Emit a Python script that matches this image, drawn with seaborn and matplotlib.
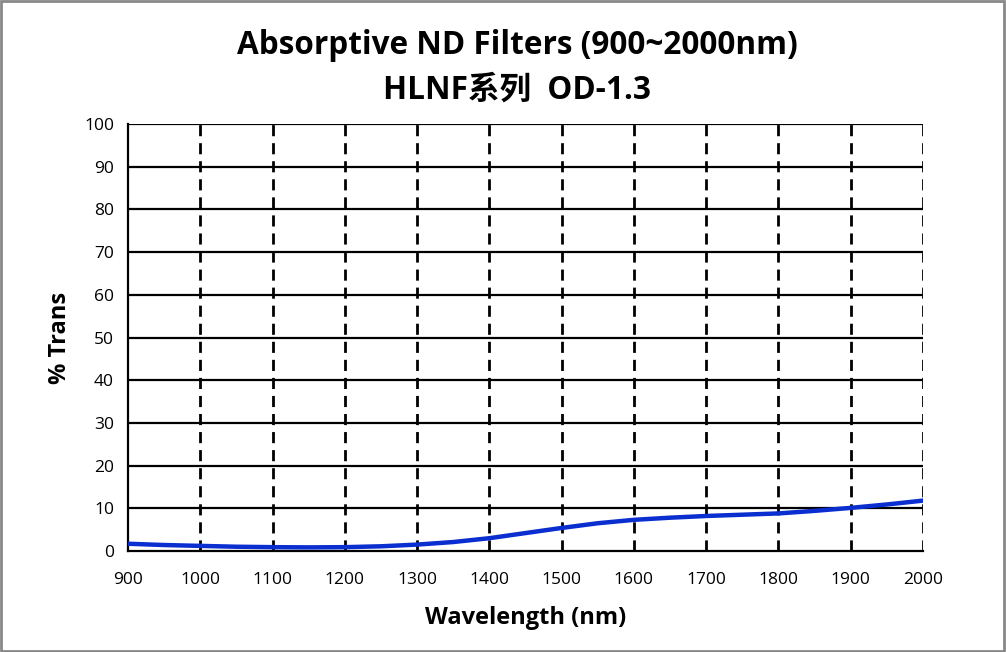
import numpy as np
import pandas as pd
import matplotlib
matplotlib.use("Agg")
import matplotlib.pyplot as plt
import seaborn as sns

# wavelength (nm) and transmission (%)
wavelength = [900, 950, 1000, 1050, 1100, 1150, 1200, 1250, 1300, 1350, 1400,
              1450, 1500, 1550, 1600, 1650, 1700, 1750, 1800, 1850, 1900, 1950, 2000]
trans = [1.7, 1.4, 1.2, 1.0, 0.9, 0.85, 0.9, 1.1, 1.5, 2.1, 3.0,
         4.2, 5.4, 6.5, 7.3, 7.8, 8.2, 8.5, 8.8, 9.4, 10.1, 10.9, 11.8]

x_ticks = list(range(900, 2001, 100))
y_ticks = list(range(0, 101, 10))

df = pd.DataFrame({"Wavelength": wavelength, "Trans": trans})

sns.set_style("white")
plt.rcParams["font.family"] = ["Open Sans", "Noto Sans CJK SC", "DejaVu Sans"]
plt.rcParams["text.color"] = "black"
plt.rcParams["axes.labelcolor"] = "black"
plt.rcParams["xtick.color"] = "black"
plt.rcParams["ytick.color"] = "black"

fig = plt.figure(figsize=(10.06, 6.52), dpi=100)
ax = fig.add_axes([128 / 1006, 1 - 551 / 652, 795 / 1006, 427 / 652])

# horizontal solid grid, vertical dashed grid
for y in y_ticks[1:]:
    ax.axhline(y, color="black", lw=1.6, zorder=1)
for x in x_ticks[1:]:
    ax.axvline(x, color="black", lw=2, ls=(0, (4, 2.5)), zorder=1)

sns.lineplot(data=df, x="Wavelength", y="Trans", ax=ax, color="#0a2ecf", lw=3.2, zorder=3)

ax.set_xlim(900, 2000)
ax.set_ylim(0, 100)
ax.set_xticks(x_ticks)
ax.set_yticks(y_ticks)
ax.tick_params(axis="x", direction="inout", length=12, width=1.6, labelsize=12.5, pad=9)
ax.tick_params(axis="y", direction="out", length=8, width=1.6, labelsize=12.5, pad=2)

for side in ["left", "bottom"]:
    ax.spines[side].set_linewidth(1.6)
    ax.spines[side].set_color("black")
for side in ["top", "right"]:
    ax.spines[side].set_visible(False)

ax.set_xlabel("Wavelength (nm)", fontsize=17, fontweight="bold")
ax.set_ylabel("% Trans", fontsize=17, fontweight="bold")
ax.xaxis.set_label_coords(0.5, (551 - 618) / 427)
ax.yaxis.set_label_coords((60 - 128) / 795, 0.5)
ax.xaxis.label.set_va("center")
ax.yaxis.label.set_va("center")

fig.text(0.514, 1 - 46 / 652, "Absorptive ND Filters (900~2000nm)",
         ha="center", va="center", fontsize=22.7, fontweight="bold")
fig.text(0.514, 1 - 90 / 652, "HLNF系列  OD-1.3",
         ha="center", va="center", fontsize=22.7, fontweight="bold")

# grey frame round the whole picture
fig.patches.append(plt.Rectangle((0.001, 0.002), 0.997, 0.996, transform=fig.transFigure,
                                 fill=False, edgecolor="#888888", lw=2))

fig.savefig("out.png", dpi=100)
